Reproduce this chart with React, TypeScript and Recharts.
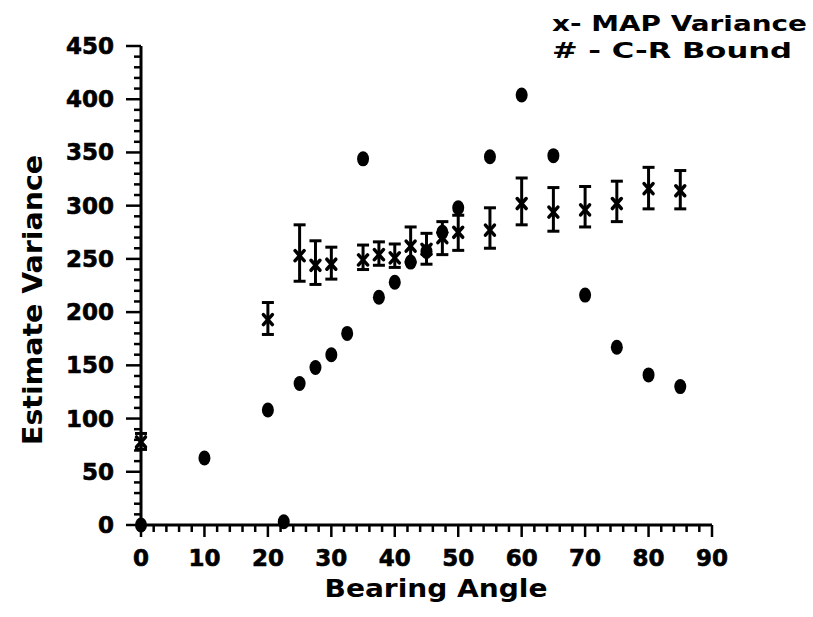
import React from 'react';
import { ScatterChart, Scatter, XAxis, YAxis, ErrorBar } from 'recharts';

// MAP variance estimates with their error bar bounds
const MAP_ANGLES = [0, 20, 25, 27.5, 30, 35, 37.5, 40, 42.5, 45, 47.5, 50, 55, 60, 65, 70, 75, 80, 85];
const MAP_VARIANCE = [78, 193, 253, 244, 245, 249, 254, 251, 262, 259, 270, 275, 277, 302, 294, 296, 302, 316, 314];
const MAP_LOW = [71, 179, 229, 226, 231, 240, 244, 242, 247, 245, 254, 258, 260, 282, 276, 280, 285, 297, 297];
const MAP_HIGH = [86, 209, 282, 267, 261, 263, 266, 264, 280, 274, 285, 291, 298, 326, 317, 318, 323, 336, 333];

// Cramer-Rao bound
const CR_ANGLES = [0, 10, 20, 22.5, 25, 27.5, 30, 32.5, 35, 37.5, 40, 42.5, 45, 47.5, 50, 55, 60, 65, 70, 75, 80, 85];
const CR_BOUND = [0, 63, 108, 3, 133, 148, 160, 180, 344, 214, 228, 247, 257, 275, 298, 346, 404, 347, 216, 167, 141, 130];

const X_MAJOR = [0, 10, 20, 30, 40, 50, 60, 70, 80, 90];
const Y_MAJOR = [0, 50, 100, 150, 200, 250, 300, 350, 400, 450];
const X_TICKS = Array.from({ length: 46 }, (_, i) => i * 2);
const Y_TICKS = Array.from({ length: 46 }, (_, i) => i * 10);

const FONT = '"DejaVu Sans", sans-serif';

const mapData = MAP_ANGLES.map((x, i) => ({
  x,
  y: MAP_VARIANCE[i],
  err: [MAP_VARIANCE[i] - MAP_LOW[i], MAP_HIGH[i] - MAP_VARIANCE[i]],
}));
const crData = CR_ANGLES.map((x, i) => ({ x, y: CR_BOUND[i] }));

function XTick({ x, y, payload }: any) {
  const major = X_MAJOR.includes(payload.value);
  return (
    <g>
      <line x1={x} x2={x} y1={y} y2={y + (major ? 12 : 7)} stroke="#000" strokeWidth={2.5} />
      {major && (
        <text x={x} y={y + 41} textAnchor="middle" fontFamily={FONT} fontWeight="bold" fontSize={23} fill="#000" stroke="#000" strokeWidth={0.6}>
          {payload.value}
        </text>
      )}
    </g>
  );
}

function YTick({ x, y, payload }: any) {
  const major = Y_MAJOR.includes(payload.value);
  return (
    <g>
      <line x1={x - (major ? 15 : 7)} x2={x} y1={y} y2={y} stroke="#000" strokeWidth={2.5} />
      {major && (
        <text x={x - 27} y={y + 8} textAnchor="end" fontFamily={FONT} fontWeight="bold" fontSize={23} fill="#000" stroke="#000" strokeWidth={0.6}>
          {payload.value}
        </text>
      )}
    </g>
  );
}

function Cross({ cx, cy }: any) {
  return (
    <g stroke="#000" strokeWidth={3.5} strokeLinecap="round">
      <line x1={cx - 4.5} y1={cy - 5} x2={cx + 4.5} y2={cy + 5} />
      <line x1={cx - 4.5} y1={cy + 5} x2={cx + 4.5} y2={cy - 5} />
    </g>
  );
}

function Blob({ cx, cy }: any) {
  return <ellipse cx={cx} cy={cy} rx={6} ry={7.5} fill="#000" />;
}

const textStyle = { fontFamily: FONT, fontWeight: 'bold' as const, fill: '#000' };

export default function App() {
  return (
    <div style={{ position: 'absolute', left: 0, top: 0, background: '#fff' }}>
      <ScatterChart width={813} height={617} margin={{ top: 46, right: 101, bottom: 0, left: 0 }}>
        <XAxis
          type="number"
          dataKey="x"
          domain={[0, 90]}
          ticks={X_TICKS}
          interval={0}
          height={92}
          tickSize={0}
          tickMargin={0}
          tickLine={false}
          axisLine={{ stroke: '#000', strokeWidth: 3 }}
          tick={<XTick />}
        />
        <YAxis
          type="number"
          dataKey="y"
          domain={[0, 450]}
          ticks={Y_TICKS}
          interval={0}
          width={141}
          tickSize={0}
          tickMargin={0}
          tickLine={false}
          axisLine={{ stroke: '#000', strokeWidth: 3 }}
          tick={<YTick />}
        />
        <Scatter data={mapData} shape={<Cross />} isAnimationActive={false}>
          <ErrorBar dataKey="err" direction="y" width={6} stroke="#000" strokeWidth={3} />
        </Scatter>
        <Scatter data={crData} shape={<Blob />} isAnimationActive={false} />
        <text x={436} y={597} textAnchor="middle" fontSize={24} textLength={223} lengthAdjust="spacingAndGlyphs" {...textStyle}>
          Bearing Angle
        </text>
        <text
          x={42}
          y={300}
          transform="rotate(-90 42 300)"
          textAnchor="middle"
          fontSize={27}
          textLength={290}
          lengthAdjust="spacingAndGlyphs"
          {...textStyle}
        >
          Estimate Variance
        </text>
        <text x={552} y={31} fontSize={22} textLength={255} lengthAdjust="spacingAndGlyphs" {...textStyle}>
          x- MAP Variance
        </text>
        <text x={552} y={58} fontSize={22} textLength={240} lengthAdjust="spacingAndGlyphs" {...textStyle}>
          # - C-R Bound
        </text>
      </ScatterChart>
    </div>
  );
}
